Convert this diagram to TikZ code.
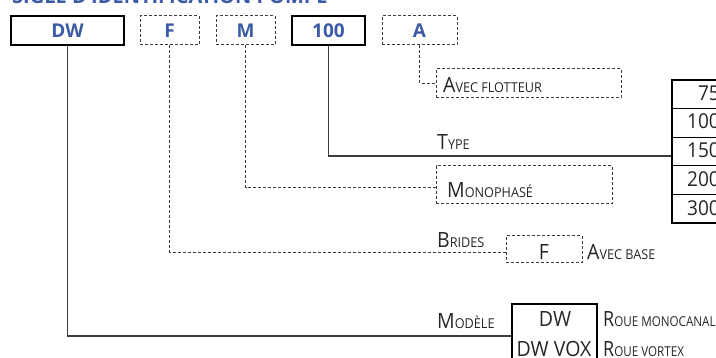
\documentclass[tikz,border=0pt]{standalone}
\usepackage{graphicx}
\usepackage{fontspec}
\setmainfont{Open Sans}[FakeStretch=0.93]
\newfontfamily\bluefont{Open Sans}
\definecolor{codeblue}{HTML}{3B5BA5}
\definecolor{linegray}{HTML}{3C3C3C}
\definecolor{txtgray}{HTML}{262626}
\newcommand{\scx}[2]{{\fontsize{21}{21}\selectfont #1}{\fontsize{13.6}{14}\selectfont #2}}
\tikzset{
  solidbox/.style={draw=black, line width=1.3pt, inner sep=0pt},
  dashbox/.style={draw=linegray, line width=1pt, dash pattern=on 3pt off 2pt, inner sep=0pt},
  solidline/.style={draw=linegray, line width=1.2pt},
  dashline/.style={draw=linegray, line width=1pt, dash pattern=on 3pt off 2pt},
  codetxt/.style={font=\bluefont\bfseries\fontsize{19}{19}\selectfont, text=codeblue},
  lbl/.style={inner sep=0pt, anchor=base west, text=txtgray},
  big/.style={inner sep=0pt, text=txtgray, font=\fontsize{21}{21}\selectfont},
  numtxt/.style={inner sep=0pt, anchor=base east, text=txtgray, font=\fontsize{20.5}{21}\selectfont},
  row/.style={draw=black, line width=1.1pt, minimum width=70pt, minimum height=28.6pt, inner sep=0pt}
}
\begin{document}
\begin{tikzpicture}[x=1pt,y=-1pt]
\useasboundingbox (0,0) rectangle (716,358);
% title (cropped at top)
\node[inner sep=0pt, anchor=base west, text=codeblue, font=\bluefont\bfseries\fontsize{20}{20}\selectfont] (title) at (12,3.2) {SIGLE D’IDENTIFICATION POMPE};
% code boxes
\node[solidbox, codetxt, minimum width=113pt, minimum height=29pt] (dw) at (67.5,30.5) {DW};
\node[dashbox, codetxt, minimum width=59pt, minimum height=29pt] (f) at (169.5,30.5) {F};
\node[dashbox, codetxt, minimum width=59pt, minimum height=29pt] (m) at (245.5,30.5) {M};
\node[solidbox, codetxt, minimum width=73pt, minimum height=29pt] (h100) at (328.5,30.5) {100};
\node[dashbox, codetxt, minimum width=75pt, minimum height=29pt] (a) at (419.5,30.5) {A};
% option boxes
\node[dashbox, minimum width=185pt, minimum height=29pt] (avecf) at (528.5,83.5) {};
\node[dashbox, minimum width=176pt, minimum height=38pt] (mono) at (524,185) {};
\node[dashbox, minimum width=76pt, minimum height=27pt] (bf) at (544,249.5) {};
\node[solidbox, line width=1.1pt, minimum width=85pt, minimum height=64pt] (model) at (554.5,336) {};
% type table
\node[row] (r1) at (707,94.3) {};
\node[row] (r2) at (707,122.9) {};
\node[row] (r3) at (707,151.5) {};
\node[row] (r4) at (707,180.1) {};
\node[row] (r5) at (707,208.7) {};
\node[numtxt] (n1) at (720,100.5) {75};
\node[numtxt] (n2) at (720,129) {100};
\node[numtxt] (n3) at (720,157.5) {150};
\node[numtxt] (n4) at (720,186.5) {200};
\node[numtxt] (n5) at (720,215.5) {300};
% connectors
\draw[solidline] (dw.south) |- (model.west);
\draw[dashline] (f.south) |- ([yshift=-3pt]bf.west);
\draw[dashline] (m.south) |- ([yshift=-3pt]mono.west);
\draw[solidline] (h100.south) |- ([yshift=-4.5pt]r3.west);
\draw[dashline] (a.south) |- (avecf.west);
% labels
\node[lbl] (lavecf) at (443,93) {\scx{A}{VEC FLOTTEUR}};
\node[lbl] (ltype) at (437,150) {\scx{T}{YPE}};
\node[lbl] (lmono) at (447,198) {\scx{M}{ONOPHASÉ}};
\node[lbl] (lbrides) at (437,248) {\scx{B}{RIDES}};
\node[big, anchor=base] (lf) at (544,260) {F};
\node[lbl] (lbase) at (587,260) {\scx{A}{VEC BASE}};
\node[lbl] (lmodele) at (437,329) {\scx{M}{ODÈLE}};
\node[big, anchor=base] (ldw) at (555,327) {DW};
\node[big, anchor=base] (ldwvox) at (554,357) {DW VOX};
\node[lbl] (lroue1) at (603,327) {\scalebox{0.92}[1]{\scx{R}{OUE MONOCANAL}}};
\node[lbl] (lroue2) at (603,357) {\scalebox{0.92}[1]{\scx{R}{OUE VORTEX}}};
\end{tikzpicture}
\end{document}
